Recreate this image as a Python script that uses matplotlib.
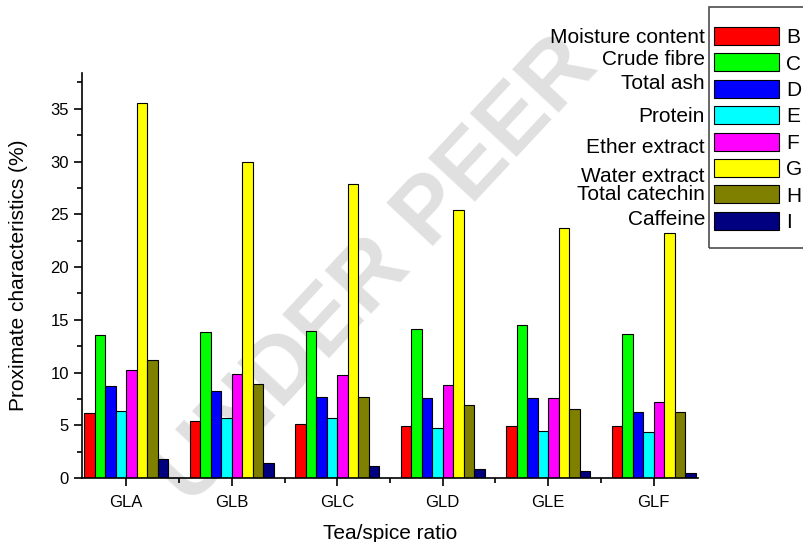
import numpy as np
import matplotlib
matplotlib.use("Agg")
import matplotlib.pyplot as plt
from matplotlib.patches import Rectangle
from matplotlib.ticker import MultipleLocator, FixedLocator

plt.rcParams["font.family"] = ["Liberation Sans", "DejaVu Sans"]

samples = ["GLA", "GLB", "GLC", "GLD", "GLE", "GLF"]
letters = ["B", "C", "D", "E", "F", "G", "H", "I"]
names = ["Moisture content", "Crude fibre", "Total ash", "Protein",
         "Ether extract", "Water extract", "Total catechin", "Caffeine"]

moisture = [6.17, 5.38, 5.10, 4.97, 4.97, 4.97]
crude_fibre = [13.6, 13.83, 13.96, 14.1, 14.5, 13.7]
total_ash = [8.77, 8.26, 7.69, 7.56, 7.60, 6.27]
protein = [6.36, 5.70, 5.66, 4.75, 4.43, 4.37]
ether_extract = [10.25, 9.87, 9.72, 8.86, 7.60, 7.22]
water_extract = [35.6, 30.0, 27.9, 25.4, 23.7, 23.2]
total_catechin = [11.17, 8.96, 7.69, 6.93, 6.58, 6.27]
caffeine = [1.77, 1.46, 1.17, 0.89, 0.70, 0.47]

series = [moisture, crude_fibre, total_ash, protein,
          ether_extract, water_extract, total_catechin, caffeine]
colors = ["#FF0000", "#00FF00", "#0000FF", "#00FFFF",
          "#FF00FF", "#FFFF00", "#808000", "#000080"]

W, H = 804, 542
fig = plt.figure(figsize=(W / 100, H / 100), dpi=100)

# faint review watermark behind the chart
fig.text(0.47, 0.5, "UNDER PEER", rotation=47, rotation_mode="anchor",
         ha="center", va="center", fontsize=66, fontweight="bold",
         color="#e0e0e0", zorder=-5)

ax = fig.add_axes([82 / W, 1 - 478 / H, (698 - 82) / W, (478 - 73) / H])
ax.set_facecolor("none")

x = np.arange(len(samples))
width = 0.1
for k, vals in enumerate(series):
    ax.bar(x + (k - 3.5) * width, vals, width, color=colors[k],
           edgecolor="black", linewidth=0.8, label=letters[k], zorder=2)

ax.set_xlim(-0.42, 5.42)
ax.set_ylim(0, 38.4)
ax.spines["top"].set_visible(False)
ax.spines["right"].set_visible(False)
ax.spines["left"].set_linewidth(1.2)
ax.spines["bottom"].set_linewidth(1.2)

ax.set_xticks(x)
ax.set_xticklabels(samples)
ax.xaxis.set_minor_locator(FixedLocator(x[:-1] + 0.5))
ax.yaxis.set_major_locator(MultipleLocator(5))
ax.yaxis.set_minor_locator(MultipleLocator(2.5))
ax.tick_params(which="major", direction="out", length=6, width=1.2, labelsize=12)
ax.tick_params(which="minor", direction="out", length=3.5, width=1.2)
ax.tick_params(axis="x", pad=6)

ax.set_xlabel("Tea/spice ratio", fontsize=15, labelpad=10)
ax.set_ylabel("Proximate characteristics (%)", fontsize=15, labelpad=16)

# legend with Origin's column letters, names written beside it
handles, labels = ax.get_legend_handles_labels()
fig.legend(handles, labels, loc="upper left",
           bbox_to_anchor=(714 / W, 1 - 27 / H), frameon=False,
           fontsize=15, handlelength=3.1, handleheight=0.95,
           handletextpad=0.35, labelspacing=0.3, borderpad=0, borderaxespad=0)
fig.patches.append(Rectangle((709 / W, 1 - 248 / H), 0.2, (248 - 7) / H,
                             transform=fig.transFigure, fill=False,
                             edgecolor="#4d4d4d", linewidth=1.2))

name_baselines = [43, 65, 89, 122, 153, 182, 200, 225]
for name, yb in zip(names, name_baselines):
    fig.text(705 / W, 1 - yb / H, name, ha="right", va="baseline", fontsize=15)

fig.savefig("out.png", dpi=100)
